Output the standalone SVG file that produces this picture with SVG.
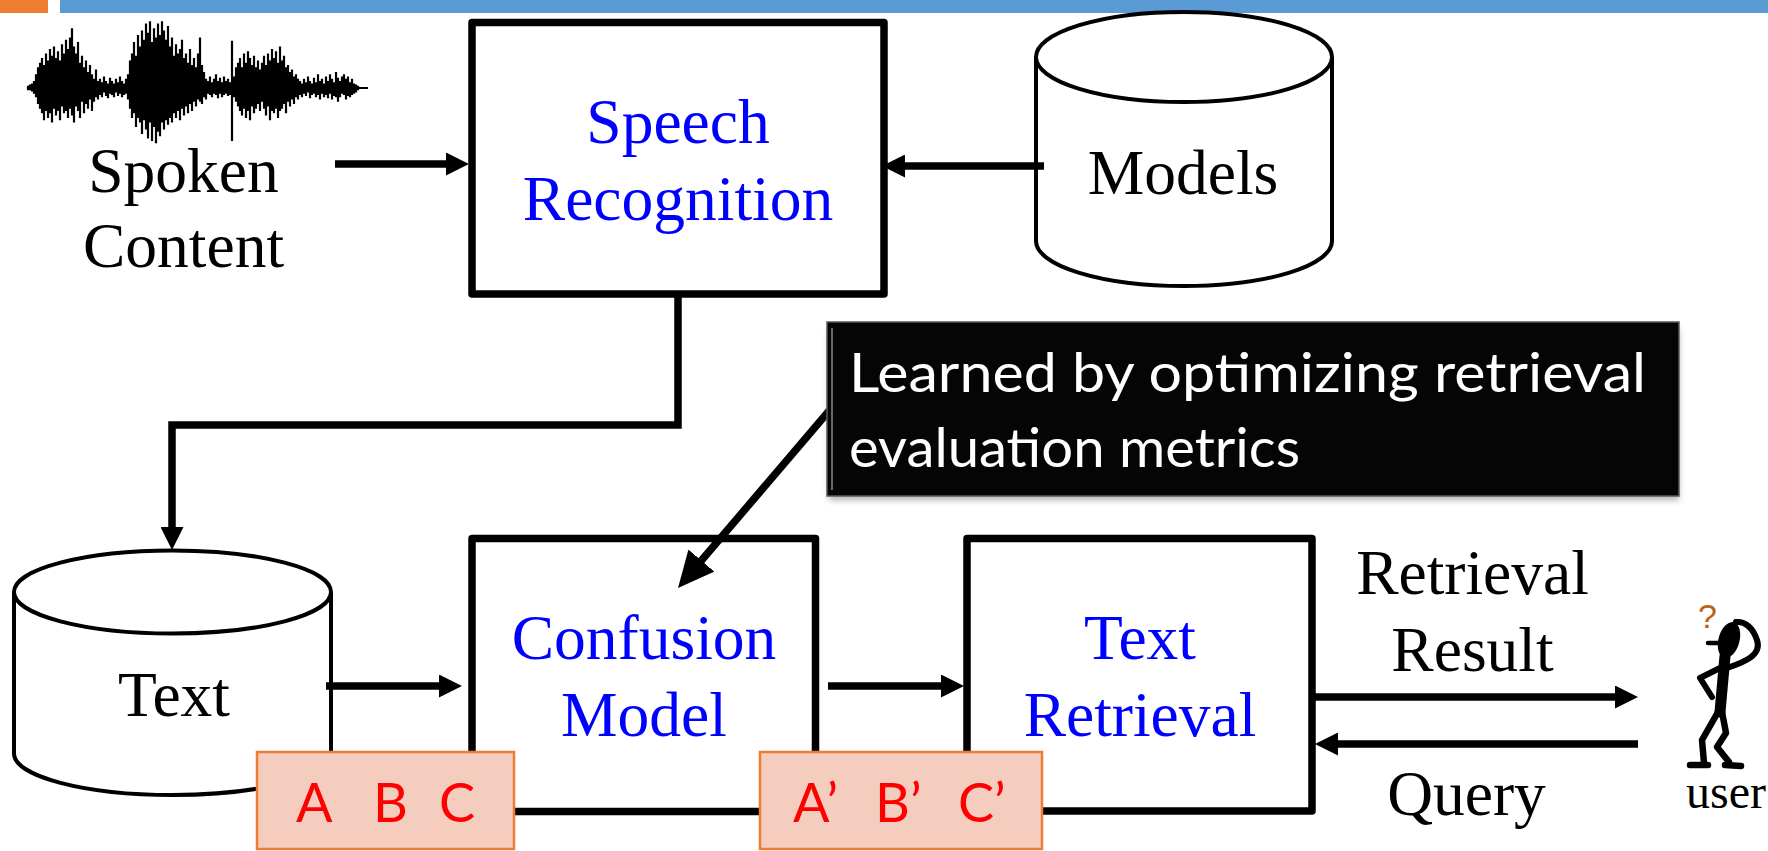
<svg xmlns="http://www.w3.org/2000/svg" width="1768" height="851" viewBox="0 0 1768 851">
  <defs>
    <style>
      .serif { font-family: "Liberation Serif", "Times New Roman", serif; font-size: 63.5px; }
      .blue { fill: #0000ff; }
      .black { fill: #000000; }
      .box { fill: #ffffff; stroke: #000000; stroke-width: 7.5; stroke-linejoin: round; }
      .cyl { fill: #ffffff; stroke: #000000; stroke-width: 4; }
      .wire { fill: none; stroke: #000000; stroke-width: 7.5; }
      .tag { fill: #f5cdbf; stroke: #ed7d31; stroke-width: 2.5; }
      .tagtext { font-family: Lato, "Liberation Sans", sans-serif; font-size: 54px; fill: #ff0000; }
      .note { font-family: Lato, "Liberation Sans", sans-serif; font-size: 55px; fill: #ffffff; }
      .figure { fill: none; stroke: #000000; stroke-linecap: round; stroke-linejoin: round; }
    </style>
    <marker id="head" markerUnits="userSpaceOnUse" markerWidth="23" markerHeight="23" refX="9" refY="11.5" orient="auto">
      <path d="M0,0 L23,11.5 L0,23 z" fill="#000000"/>
    </marker>
    <marker id="head-large" markerUnits="userSpaceOnUse" markerWidth="36" markerHeight="34" refX="20" refY="17" orient="auto">
      <path d="M0,0 L36,17 L0,34 z" fill="#000000"/>
    </marker>
    <filter id="soft" x="-10%" y="-20%" width="120%" height="140%">
      <feGaussianBlur stdDeviation="3"/>
    </filter>
  </defs>

  <rect width="1768" height="851" fill="#ffffff"/>

  <!-- header bars -->
  <rect x="0" y="0" width="48" height="13" fill="#ed7d31"/>
  <rect x="60" y="0" width="1708" height="13" fill="#5b9bd5"/>

  <!-- spoken content: waveform and label -->
  <g id="node-spoken">
    <line x1="27" y1="88" x2="368" y2="88" stroke="#000" stroke-width="2"/>
    <path fill="none" stroke="#000" stroke-width="2.2" vector-effect="non-scaling-stroke" transform="translate(0,88) scale(1,1.15) translate(0,-88)" d="M28 86V90M30 85V90M32 84V91M34 82V93M36 76V96M38 70V102M40 66V106M42 62V110M44 68V116M46 58V108M48 64V114M50 54V110M52 60V118M54 52V106M56 62V112M58 56V108M60 64V116M62 50V104M64 58V110M66 46V108M68 54V114M70 44V106M72 36V112M74 52V118M76 58V104M78 48V108M80 66V114M82 60V100M84 70V110M86 64V102M88 74V106M90 68V98M92 76V108M94 80V100M96 72V96M98 82V98M100 80V94M102 83V96M104 78V92M106 82V95M108 84V97M110 79V93M112 82V94M114 84V96M116 80V92M118 83V95M120 78V93M122 82V96M124 84V94M126 80V93M128 76V98M130 64V106M132 58V114M134 48V110M136 60V122M138 42V114M140 52V118M142 38V128M144 46V116M146 32V124M148 40V132M150 30V118M152 48V134M154 36V122M156 44V136M158 32V126M160 42V130M162 30V118M164 38V124M166 46V116M168 34V120M170 52V114M172 44V118M174 60V110M176 50V114M178 58V108M180 54V116M182 46V106M184 62V112M186 58V104M188 66V110M190 54V102M192 68V108M194 62V100M196 70V104M198 58V98M200 44V100M202 68V102M204 74V96M206 80V98M208 82V93M210 78V94M212 83V96M214 80V93M216 76V94M218 82V97M220 79V93M222 83V96M224 78V94M226 82V93M228 80V95M230 83V94M232 47V134M234 78V96M236 70V100M238 66V104M240 62V108M242 70V112M244 58V106M246 66V114M248 56V108M250 62V116M252 68V104M254 60V110M256 70V106M258 64V102M260 72V108M262 66V100M264 60V106M266 68V112M268 58V104M270 64V116M272 54V108M274 62V110M276 56V106M278 66V114M280 52V108M282 64V106M284 60V102M286 70V110M288 68V100M290 74V104M292 72V98M294 78V102M296 76V96M298 80V98M300 82V94M302 84V96M304 80V93M306 83V95M308 78V92M310 82V97M312 84V94M314 79V93M316 83V96M318 76V94M320 82V98M322 80V93M324 84V96M326 78V94M328 82V97M330 76V93M332 80V98M334 83V95M336 74V96M338 79V100M340 82V96M342 78V93M344 76V94M346 80V98M348 78V95M350 83V96M352 80V94M354 84V93M356 85V92M358 86V90"/>
    <text class="serif black" x="183.5" y="192" text-anchor="middle">Spoken</text>
    <text class="serif black" x="183.5" y="267" text-anchor="middle">Content</text>
  </g>

  <!-- speech recognition -->
  <g id="node-speech">
    <rect class="box" x="472" y="22.5" width="412" height="271.5"/>
    <text class="serif blue" x="678" y="143" text-anchor="middle">Speech</text>
    <text class="serif blue" x="678" y="220" text-anchor="middle">Recognition</text>
  </g>

  <!-- models store -->
  <g id="node-models">
    <path class="cyl" d="M1036,57 V241 A148,45 0 0 0 1332,241 V57"/>
    <ellipse class="cyl" cx="1184" cy="57" rx="148" ry="45"/>
    <text class="serif black" x="1183" y="194" text-anchor="middle">Models</text>
  </g>

  <!-- text store -->
  <g id="node-text">
    <path class="cyl" d="M14,592 V753.5 A158.5,41.5 0 0 0 331,753.5 V592"/>
    <ellipse class="cyl" cx="172.5" cy="592" rx="158.5" ry="41.5"/>
    <text class="serif black" x="174" y="716" text-anchor="middle">Text</text>
  </g>

  <!-- confusion model -->
  <g id="node-confusion">
    <rect class="box" x="472" y="538.5" width="343.5" height="273"/>
    <text class="serif blue" x="644" y="659" text-anchor="middle">Confusion</text>
    <text class="serif blue" x="644" y="736" text-anchor="middle">Model</text>
  </g>

  <!-- text retrieval -->
  <g id="node-retrieval">
    <rect class="box" x="967" y="538.5" width="345" height="272.5"/>
    <text class="serif blue" x="1140" y="659" text-anchor="middle">Text</text>
    <text class="serif blue" x="1140" y="736" text-anchor="middle">Retrieval</text>
  </g>

  <!-- connectors -->
  <g id="connectors">
    <line class="wire" x1="335" y1="164" x2="455" y2="164" marker-end="url(#head)"/>
    <line class="wire" x1="1044" y1="166" x2="896" y2="166" marker-end="url(#head)"/>
    <path class="wire" d="M678,297 V425 H172 V536" marker-end="url(#head)"/>
    <line class="wire" x1="326" y1="686" x2="448" y2="686" marker-end="url(#head)"/>
    <line class="wire" x1="828" y1="686" x2="950" y2="686" marker-end="url(#head)"/>
    <line class="wire" x1="1315" y1="697" x2="1624" y2="697" marker-end="url(#head)"/>
    <line class="wire" x1="1638" y1="744" x2="1329" y2="744" marker-end="url(#head)"/>
    <line class="wire" x1="840" y1="398" x2="688.4" y2="575.8" stroke-width="8.5" marker-end="url(#head-large)"/>
    <text class="serif black" x="1472.5" y="594" text-anchor="middle">Retrieval</text>
    <text class="serif black" x="1472.5" y="671" text-anchor="middle">Result</text>
    <text class="serif black" x="1466.5" y="815" text-anchor="middle">Query</text>
  </g>

  <!-- callout note -->
  <g id="node-callout">
    <rect x="829" y="328" width="850" height="172" fill="#7a7a7a" opacity="0.6" filter="url(#soft)"/>
    <rect x="827" y="322" width="852" height="174" fill="#050505" stroke="#5a5a5a" stroke-width="1.5"/>
    <line x1="832" y1="328" x2="832" y2="490" stroke="#8a8a8a" stroke-width="1.5"/>
    <text class="note" x="849" y="392" textLength="797" lengthAdjust="spacingAndGlyphs">Learned by optimizing retrieval</text>
    <text class="note" x="849" y="467" textLength="451" lengthAdjust="spacingAndGlyphs">evaluation metrics</text>
  </g>

  <!-- symbol tags -->
  <g id="node-abc">
    <rect class="tag" x="257" y="752" width="257" height="97"/>
    <text class="tagtext" y="822"><tspan x="296">A</tspan><tspan x="373">B</tspan><tspan x="439">C</tspan></text>
  </g>
  <g id="node-abc-prime">
    <rect class="tag" x="760" y="752" width="282" height="97"/>
    <text class="tagtext" y="822"><tspan x="793">A’</tspan><tspan x="875">B’</tspan><tspan x="958">C’</tspan></text>
  </g>

  <!-- user figure -->
  <g id="node-user">
    <text x="1698" y="628" font-family="'Liberation Sans', sans-serif" font-size="34" fill="#b8651b">?</text>
    <ellipse cx="1729" cy="640" rx="10.5" ry="18.5" transform="rotate(15 1729 640)" fill="#000"/>
    <path class="figure" stroke-width="4.5" d="M1708,643 L1722,643"/>
    <path class="figure" stroke-width="6" d="M1727,668 C1745,662 1762,655 1757,640 C1753,628 1745,621 1736,622"/>
    <path class="figure" stroke-width="11" d="M1725,656 L1720,712"/>
    <path class="figure" stroke-width="6" d="M1720,668 L1700,678 L1712,697"/>
    <path class="figure" stroke-width="6.5" d="M1718,712 L1702,740 L1704,763 M1690,765 L1708,765"/>
    <path class="figure" stroke-width="6.5" d="M1722,712 L1726,733 L1717,747 L1729,762 M1725,765 L1741,766"/>
    <text class="serif black" x="1726" y="808" text-anchor="middle" style="font-size:48px">user</text>
  </g>
</svg>
